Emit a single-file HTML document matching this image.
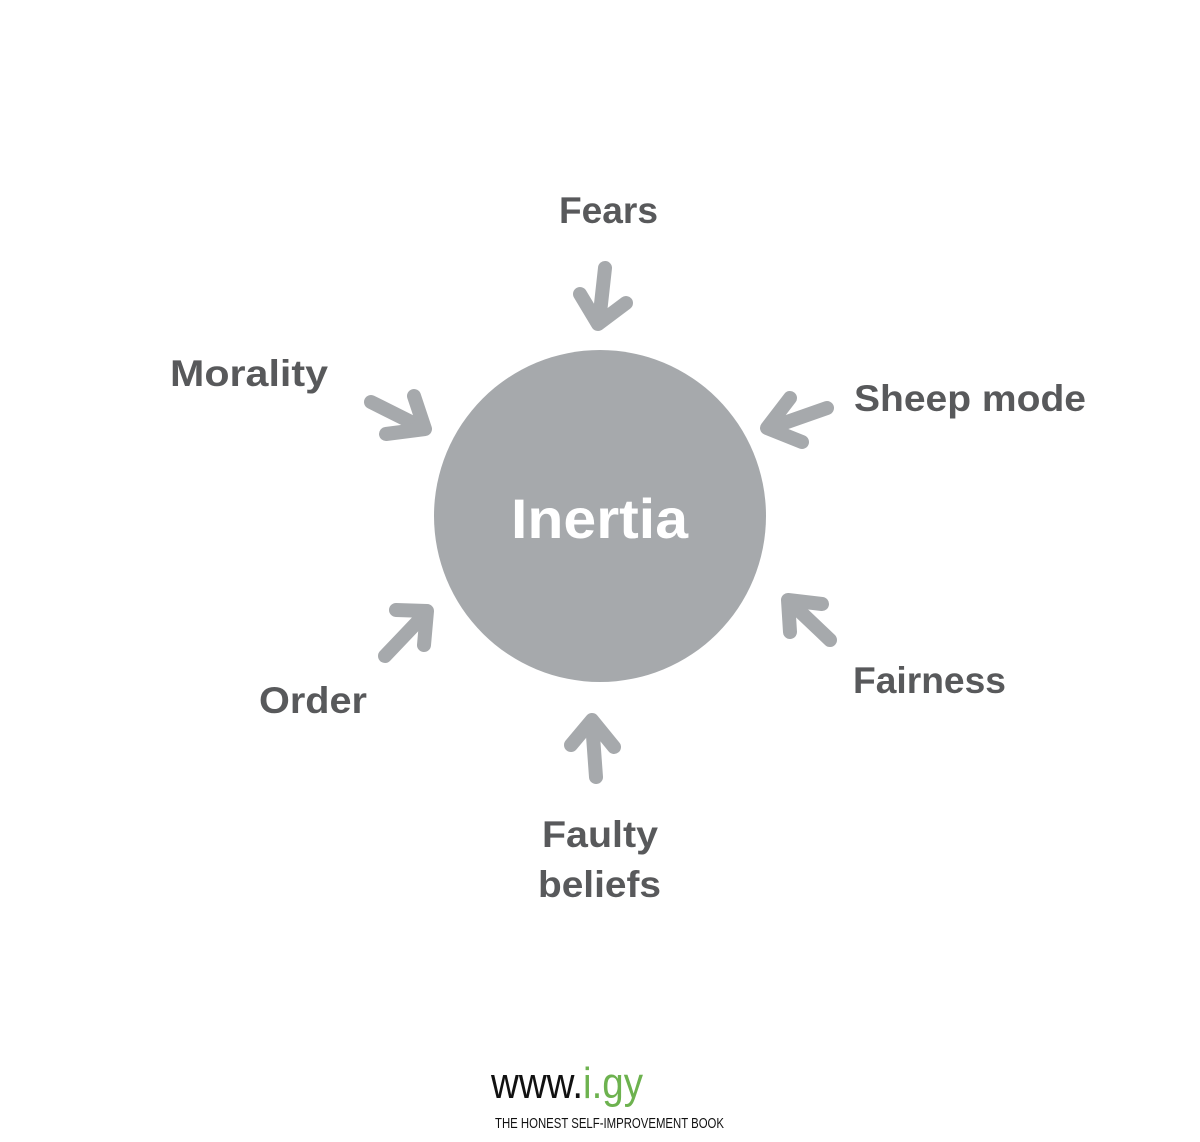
<!DOCTYPE html>
<html><head><meta charset="utf-8"><style>
html,body{margin:0;padding:0;background:#fff;}
svg{display:block;}
</style></head><body>
<svg width="1200" height="1142" viewBox="0 0 1200 1142" xmlns="http://www.w3.org/2000/svg">
<circle cx="600" cy="516" r="166" fill="#a6a9ac"/>
<g fill="none" stroke="#a6a9ac" stroke-width="14" stroke-linecap="round" stroke-linejoin="round">
<path d="M605 268 L599 322"/><path d="M580 294 L598 324 L626 303"/>
<path d="M827 408 L770 428"/><path d="M790 398 L767 428 L802 442"/>
<path d="M371 402 L423 428"/><path d="M414 396 L425 429 L386 434"/>
<path d="M385 656 L425 614"/><path d="M396 610 L427 611 L424 645"/>
<path d="M830 640 L790 602"/><path d="M822 604 L788 600 L790 632"/>
<path d="M596 777 L592 722"/><path d="M571 745 L592 720 L614 747"/>
</g>
<g font-family="Liberation Sans, sans-serif" font-weight="bold" fill="#58595b" font-size="37">
<text x="559" y="223" textLength="99" lengthAdjust="spacingAndGlyphs">Fears</text>
<text x="170" y="386" textLength="158" lengthAdjust="spacingAndGlyphs">Morality</text>
<text x="854" y="411" textLength="232" lengthAdjust="spacingAndGlyphs">Sheep mode</text>
<text x="853" y="693" textLength="153" lengthAdjust="spacingAndGlyphs">Fairness</text>
<text x="259" y="713" textLength="108" lengthAdjust="spacingAndGlyphs">Order</text>
<text x="542" y="847" textLength="116" lengthAdjust="spacingAndGlyphs">Faulty</text>
<text x="538" y="897" textLength="123" lengthAdjust="spacingAndGlyphs">beliefs</text>
</g>
<text x="511" y="538" font-family="Liberation Sans, sans-serif" font-weight="bold" font-size="56" fill="#fff" textLength="177" lengthAdjust="spacingAndGlyphs">Inertia</text>
<text x="491" y="1098" font-family="Liberation Sans, sans-serif" font-size="44" textLength="152" lengthAdjust="spacingAndGlyphs"><tspan fill="#111">www.</tspan><tspan fill="#6db24f">i.gy</tspan></text>
<text x="495" y="1128" font-family="Liberation Sans, sans-serif" font-size="15" fill="#111" textLength="229" lengthAdjust="spacingAndGlyphs">THE HONEST SELF-IMPROVEMENT BOOK</text>
</svg>
</body></html>
